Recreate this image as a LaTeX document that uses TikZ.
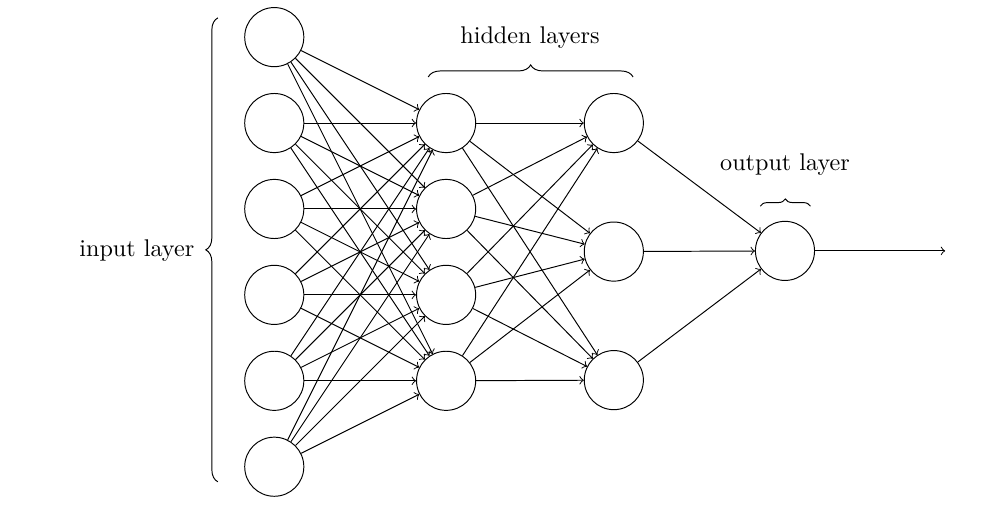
\documentclass[tikz,border=0pt]{standalone}
\usetikzlibrary{decorations.pathreplacing}

\begin{document}
\begin{tikzpicture}[auto,
        neuron/.style={circle, draw, minimum size=0.86cm, inner sep=0pt},
        layerbrace/.style={decorate, decoration={brace, amplitude=5pt}}]
        \useasboundingbox (0,0) rectangle (14.49,-7.42);
        % input layer
        \foreach \i in {1,...,6}
          \node[neuron] (I\i) at (3.99, {-0.54-1.25*(\i-1)}) {};
        % hidden layers
        \foreach \i in {1,...,4}
          \node[neuron] (H\i) at (6.49, {-1.79-1.25*(\i-1)}) {};
        \foreach \i in {1,2,3}
          \node[neuron] (G\i) at (8.93, {-1.79-1.87*(\i-1)}) {};
        % output layer
        \node[neuron] (O) at (11.42, -3.65) {};
        \coordinate (out) at (13.75, -3.65);

        \foreach \i in {1,...,6}
          \foreach \j in {1,...,4}
            \draw[->] (I\i) to (H\j);
        \foreach \i in {1,...,4}
          \foreach \j in {1,2,3}
            \draw[->] (H\i) to (G\j);
        \foreach \i in {1,2,3}
          \draw[->] (G\i) to (O);
        \draw[->] (O) to (out);

        % braces and labels
        \draw[layerbrace] (3.17,-7.01) -- (3.17,-0.26);
        \node (inlbl) at (1.99, -3.64) {input layer};
        \draw[layerbrace] (6.23,-1.12) -- (9.21,-1.12);
        \node (hidlbl) at (7.71, -0.54) {hidden layers};
        \draw[layerbrace, decoration={amplitude=3pt}] (11.06,-3.0) -- (11.79,-3.0);
        \node (outlbl) at (11.42, -2.39) {output layer};

      \end{tikzpicture}
\end{document}
